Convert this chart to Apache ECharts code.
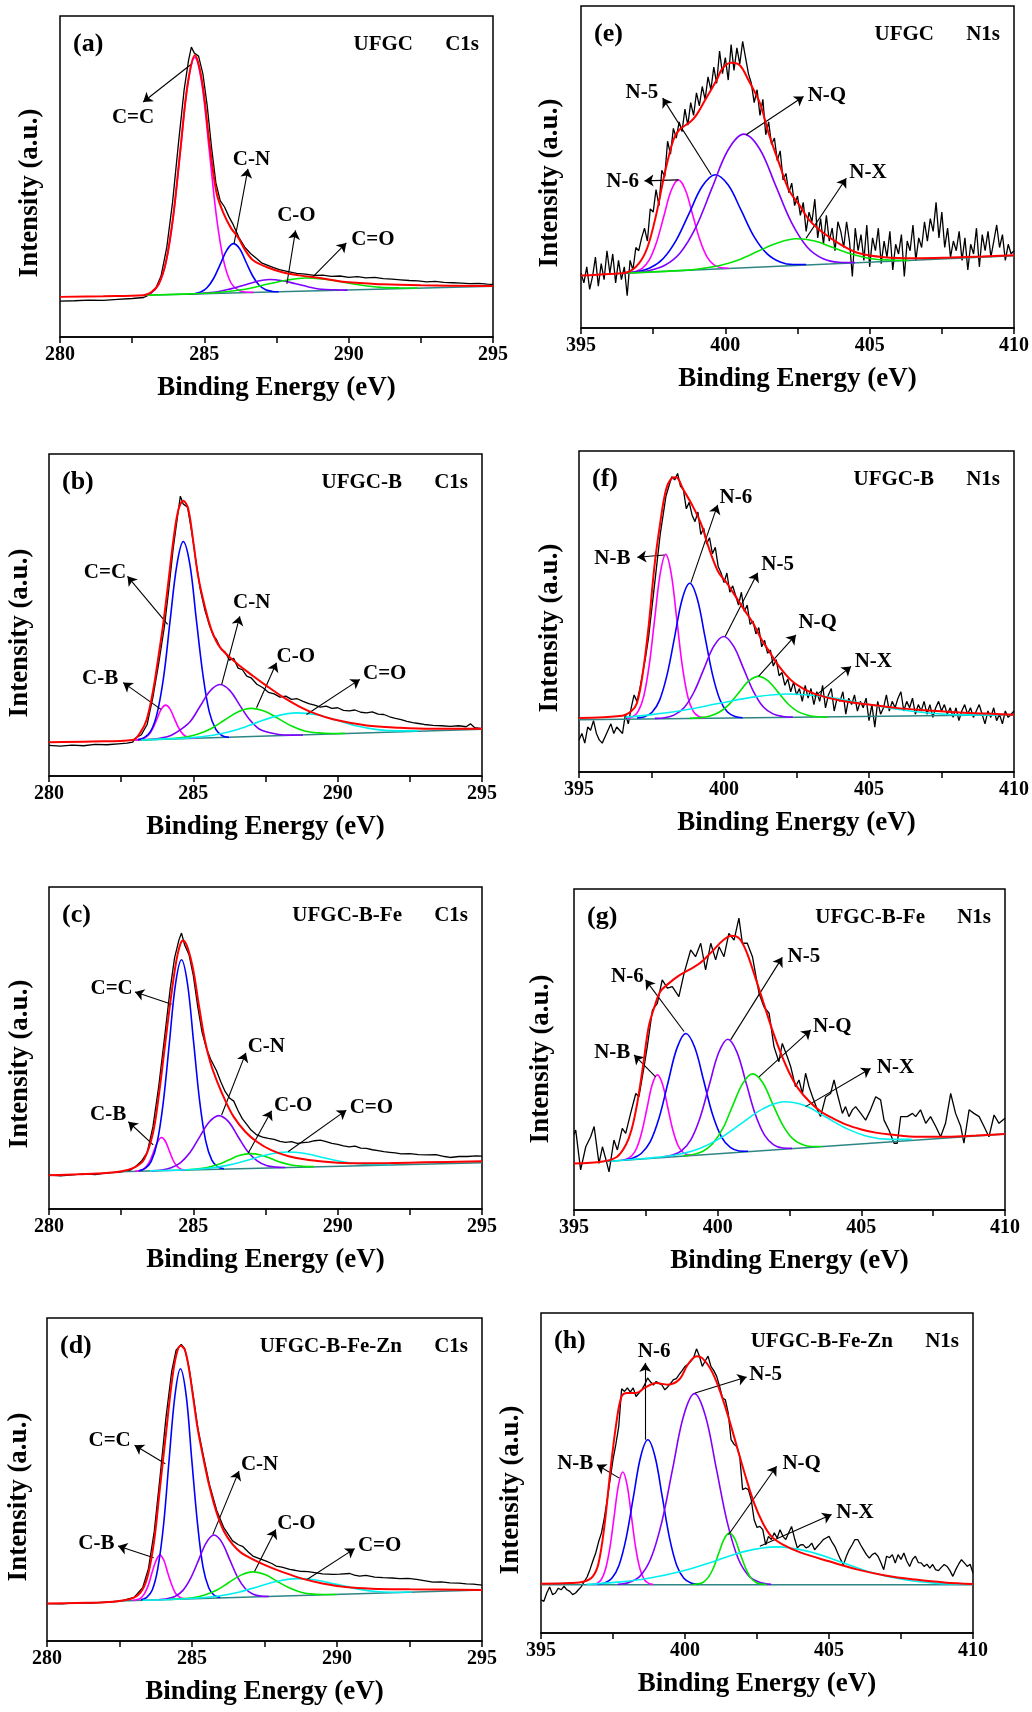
<!DOCTYPE html>
<html>
<head>
<meta charset="utf-8">
<title>XPS C1s / N1s</title>
<script src="https://cdn.jsdelivr.net/npm/echarts@6/dist/echarts.min.js"></script>
<style>
  html, body { margin: 0; padding: 0; background: #fff; }
  #chart { width: 1032px; height: 1712px; }
</style>
</head>
<body>
<div id="chart"></div>
<script>
// ---- (a) UFGC C1s ----
const aRaw = [[280,11.2],[280.5,11.3],[281,11.5],[281.5,11.4],[282,11.7],[282.5,12.0],[282.9,12.3],[283.1,13.2],[283.3,14.8],[283.5,19],[283.7,28],[283.9,42],[284.1,60],[284.3,77],[284.45,86],[284.55,90.3],[284.65,88.5],[284.8,87.5],[284.95,82],[285.1,72],[285.25,59],[285.4,48],[285.55,42.5],[285.7,40.5],[285.85,37.5],[286.0,35],[286.2,31],[286.4,28],[286.6,26],[286.8,24.5],[287.0,23],[287.2,22.3],[287.4,21.6],[287.6,21.0],[287.9,20.4],[288.2,19.8],[288.5,19.6],[288.8,19.2],[289.1,19.3],[289.4,18.9],[289.7,19.0],[290.0,18.6],[290.3,18.8],[290.6,18.4],[290.9,18.6],[291.2,18.2],[291.5,18.0],[291.8,17.8],[292.1,17.6],[292.4,17.5],[292.7,17.2],[293.0,17.3],[293.3,17.0],[293.6,16.9],[293.9,16.8],[294.2,16.6],[294.5,16.7],[294.8,16.5],[295,16.4]];
const aEnv = [[280,12.5],[281.5,12.7],[282.9,13.0],[283.17,14.0],[283.42,16.5],[283.67,23.4],[283.92,37.5],[284.17,58.3],[284.42,78.6],[284.67,87.8],[284.92,79.8],[285.17,61],[285.42,45],[285.67,38.4],[285.92,34],[286.17,31],[286.42,27],[286.69,23.9],[287.15,21.8],[287.7,20.2],[288.3,19.2],[289.0,18.4],[289.9,17.1],[291.2,16.4],[292.5,16.1],[295,15.9]];
const aBase = [[282.9,13.0],[295,15.8]];
const aCC = [[282.9,13.0],[283.17,13.9],[283.42,16.4],[283.67,23.2],[283.92,37.2],[284.17,58.0],[284.42,78.4],[284.67,87.1],[284.92,78.5],[285.17,58.2],[285.42,37.5],[285.67,23.7],[285.92,16.9],[286.17,14.6],[286.42,14.0],[286.7,13.9]];
const aCN = [[284.43,13.3],[284.65,13.5],[284.875,14.0],[285.1,15.4],[285.325,18.3],[285.55,22.6],[285.775,27.0],[286.0,29.1],[286.225,27.5],[286.45,23.2],[286.675,19.0],[286.9,16.1],[287.125,14.7],[287.35,14.2],[287.575,14.1]];
const aCO = [[284.56,13.4],[285.01,13.7],[285.46,14.1],[285.91,15.0],[286.36,16.1],[286.81,17.3],[287.26,17.9],[287.71,17.5],[288.16,16.6],[288.61,15.6],[289.06,14.9],[289.51,14.7],[289.96,14.6]];
const aCdO = [[283.0,13.0],[284.6,13.45],[285.25,13.7],[285.9,14.25],[286.55,15.1],[287.2,16.5],[287.85,17.7],[288.5,18.4],[289.15,18.0],[289.8,17.1],[290.45,16.1],[291.1,15.45],[291.75,15.3],[292.4,15.25]];
const aNotes = [['C=C',282.53,68.5,284.58,85.2,282.88,73.2],['C-N',286.63,55.2,286.03,29.1,286.51,52.4],['C-O',288.19,37.9,287.86,16.6,288.16,33.2],['C=O',290.84,30.3,288.76,18.7,289.92,29.3]];

// ---- (b) UFGC-B C1s ----
const bRaw = [[280,9.5],[280.4,9.3],[280.8,9.6],[281.2,9.4],[281.6,9.8],[282.0,9.7],[282.4,10.0],[282.7,10.2],[282.9,10.5],[283.0,11.8],[283.2,12.8],[283.4,16.0],[283.6,24.5],[283.8,35.0],[284.0,46.5],[284.15,58],[284.3,70.5],[284.45,80.5],[284.55,86.9],[284.65,84.5],[284.8,83.5],[284.95,75.5],[285.1,66],[285.25,57.5],[285.4,51.5],[285.55,47],[285.7,43.5],[285.8,42.4],[285.95,39.5],[286.1,38.5],[286.25,36],[286.4,36.5],[286.55,33.5],[286.7,33],[286.85,31],[287.0,30.5],[287.2,28.5],[287.4,27.5],[287.6,26],[287.8,25.5],[288.0,24.5],[288.2,24.8],[288.4,23.8],[288.6,24],[288.8,23.2],[289.0,22.5],[289.2,22.0],[289.4,21.4],[289.6,21.7],[289.8,21.0],[290.0,21.2],[290.2,20.4],[290.4,20.2],[290.6,20.5],[290.8,19.8],[291.0,19.6],[291.2,19.9],[291.4,19.2],[291.6,19.1],[291.8,18.4],[292.0,17.9],[292.2,17.5],[292.4,17.0],[292.6,16.6],[292.8,16.3],[293.0,16.0],[293.3,15.7],[293.6,15.6],[293.9,15.4],[294.2,15.6],[294.45,15.3],[294.6,16.2],[294.75,15.0],[295,14.7]];
const bEnv = [[280,10.5],[281.5,10.7],[282.9,11.2],[283.15,13.3],[283.38,17.4],[283.61,26.7],[283.79,37.0],[283.96,47.4],[284.13,59.8],[284.31,73.3],[284.48,82.6],[284.65,85.5],[284.82,83.1],[284.99,73.3],[285.17,61.9],[285.4,52.6],[285.63,45.3],[285.92,40.0],[286.5,35.0],[287.08,31.0],[287.54,28.0],[288.11,24.5],[288.69,21.5],[289.27,19.2],[289.84,17.6],[291.0,15.7],[292.15,15.0],[293.3,14.7],[295,14.7]];
const bBase = [[282.9,11.1],[295,14.5]];
const bCB = [[282.99,11.15],[283.14,11.3],[283.29,11.75],[283.44,12.65],[283.59,14.65],[283.74,17.7],[283.89,20.75],[284.04,22.0],[284.19,20.85],[284.34,17.9],[284.49,14.95],[284.64,13.0],[284.79,12.1],[284.94,11.8],[285.09,11.75]];
const bCC = [[283.08,11.3],[283.3,11.9],[283.53,14.0],[283.75,19.6],[283.98,31.3],[284.2,48.65],[284.43,65.6],[284.65,72.8],[284.88,65.7],[285.1,48.85],[285.33,31.6],[285.55,20.0],[285.78,14.5],[286.0,12.5],[286.23,12.0]];
const bCN = [[283.2,11.2],[283.54,11.4],[283.88,11.8],[284.22,12.6],[284.56,14.4],[284.9,17.0],[285.24,21.75],[285.58,26.4],[285.92,28.4],[286.26,26.6],[286.6,22.1],[286.94,17.6],[287.28,14.6],[287.62,13.5],[287.96,12.9],[288.3,12.7],[288.8,12.75]];
const bCO = [[283.2,11.2],[283.75,11.4],[284.21,11.6],[284.68,12.0],[285.14,13.0],[285.61,14.7],[286.07,17.3],[286.54,19.9],[287.0,21.0],[287.47,20.1],[287.93,17.9],[288.4,15.5],[288.86,14.0],[289.33,13.4],[289.79,13.2],[290.26,13.25]];
const bCdO = [[283.2,11.2],[284.37,11.6],[285.07,12.0],[285.77,12.8],[286.47,14.3],[287.17,16.5],[287.87,18.6],[288.57,19.6],[289.27,19.0],[289.97,17.3],[290.67,15.5],[291.37,14.4],[292.07,14.0],[292.77,14.0]];
const bNotes = [['C=C',281.94,63.1,284.11,47.1,282.72,62.0],['C-B',281.77,30.2,283.88,20.7,282.57,29.0],['C-N',287.02,54.0,285.98,28.4,286.61,49.6],['C-O',288.55,37.2,287.19,21.2,287.88,35.2],['C=O',291.63,31.7,288.92,19.1,290.77,30.0]];

// ---- (c) UFGC-B-Fe C1s ----
const cRaw = [[280,10.5],[280.4,10.3],[280.8,10.6],[281.2,10.9],[281.6,10.7],[282.0,11.2],[282.4,11.4],[282.8,12.0],[283.0,13.2],[283.2,14.8],[283.4,17.5],[283.6,25.5],[283.8,38],[284.0,53],[284.2,68.5],[284.35,78],[284.5,83.5],[284.59,85.7],[284.7,82],[284.85,79],[285.0,72.5],[285.15,63],[285.3,55],[285.45,50],[285.6,46.5],[285.8,43],[285.95,39.5],[286.1,36.5],[286.25,34.5],[286.4,33.5],[286.55,30.5],[286.7,28],[286.85,26.3],[287.0,24.5],[287.2,23.0],[287.4,22.3],[287.6,21.9],[287.8,21.6],[288.0,21.0],[288.2,20.7],[288.4,20.9],[288.6,20.4],[288.8,20.6],[289.0,20.8],[289.2,21.2],[289.4,21.4],[289.6,20.9],[289.8,20.4],[290.0,20.1],[290.2,19.6],[290.4,19.3],[290.6,19.5],[290.8,18.9],[291.0,18.8],[291.2,18.4],[291.4,18.1],[291.6,17.8],[291.8,17.6],[292.0,17.4],[292.2,17.1],[292.5,17.2],[292.8,16.9],[293.1,16.8],[293.4,16.9],[293.7,16.3],[293.9,16.0],[294.2,16.3],[294.5,16.3],[294.8,16.5],[295,16.4]];
const cEnv = [[280,10.5],[281,10.8],[282,11.2],[282.6,11.9],[283.0,13.1],[283.3,15.5],[283.6,23.5],[283.8,35],[284.0,49.5],[284.2,64],[284.4,76.5],[284.55,82.3],[284.65,83.4],[284.8,81.2],[285.0,74.1],[285.2,62.8],[285.4,52.4],[285.6,45.2],[285.85,39.0],[286.1,33.8],[286.4,28.6],[286.8,24],[287.2,20.9],[287.7,18.3],[288.3,16.4],[289,15.2],[290,14.4],[291,14.2],[292,14.3],[293,14.5],[295,14.8]];
const cBase = [[282.4,11.6],[295,14.4]];
const cCB = [[282.99,11.75],[283.12,11.9],[283.25,12.3],[283.38,13.25],[283.51,15.2],[283.64,18.15],[283.77,21.0],[283.9,22.2],[284.03,21.05],[284.16,18.25],[284.29,15.3],[284.42,13.4],[284.55,12.45],[284.68,12.15],[284.81,12.05]];
const cCC = [[283.12,11.85],[283.33,12.6],[283.54,14.8],[283.75,20.8],[283.96,33.2],[284.17,51.6],[284.38,69.7],[284.59,77.4],[284.8,69.8],[285.01,51.8],[285.22,33.4],[285.43,21.1],[285.64,15.2],[285.85,13.1],[286.06,12.5]];
const cCN = [[283.57,11.9],[283.9,12.1],[284.23,12.8],[284.56,14.4],[284.89,17.6],[285.22,22.4],[285.55,27.0],[285.88,29.0],[286.21,27.2],[286.54,22.6],[286.87,18.0],[287.2,15.0],[287.53,13.5],[287.86,13.0],[288.19,12.9]];
const cCO = [[284.74,12.15],[285.11,12.4],[285.48,12.9],[285.85,13.8],[286.22,15.2],[286.59,16.6],[286.96,17.2],[287.33,16.8],[287.7,15.6],[288.07,14.4],[288.44,13.6],[288.81,13.25],[289.18,13.15]];
const cCdO = [[283.5,11.9],[284.63,12.1],[285.23,12.4],[285.83,13.0],[286.43,14.05],[287.03,15.55],[287.63,17.0],[288.23,17.7],[288.83,17.3],[289.43,16.1],[290.03,14.9],[290.63,14.15],[291.23,13.85],[291.83,13.85]];
const cNotes = [['C=C',282.17,68.4,284.25,63.6,282.98,67.4],['C-B',282.05,29.2,283.61,19.9,282.75,27.1],['C-N',287.53,50.4,285.98,29.2,286.82,48.5],['C-O',288.46,32.0,286.9,17.3,287.71,30.5],['C=O',291.17,31.5,288.28,17.8,290.3,30.7]];

// ---- (d) UFGC-B-Fe-Zn C1s ----
const dRaw = [[280,11.6],[280.5,11.5],[281,11.8],[281.5,11.7],[282,12.0],[282.5,12.3],[283.0,13.5],[283.3,16.5],[283.5,22.5],[283.7,34],[283.9,51],[284.1,69],[284.3,83.5],[284.45,90],[284.63,91.8],[284.75,90.5],[284.9,84.5],[285.05,75.5],[285.2,66],[285.4,57],[285.6,48.5],[285.85,40.5],[286.1,35],[286.4,31],[286.6,29.8],[286.76,29.2],[286.95,27.5],[287.1,26.3],[287.3,25.6],[287.56,24.7],[287.75,24.0],[287.9,23.2],[288.1,22.9],[288.37,22.2],[288.55,21.9],[288.71,21.6],[289.0,21.5],[289.29,21.1],[289.5,20.8],[289.86,20.6],[290.1,20.7],[290.44,20.9],[290.6,20.4],[290.78,20.1],[291.0,20.3],[291.3,19.8],[291.59,19.6],[291.9,19.5],[292.16,19.3],[292.45,19.4],[292.74,19.1],[293.0,18.7],[293.31,18.2],[293.6,18.3],[293.89,18.0],[294.2,17.9],[294.46,17.7],[294.7,17.6],[295,17.3]];
const dEnv = [[280,11.6],[281,11.8],[282,12.0],[282.5,12.4],[283,13.4],[283.3,16],[283.5,21.1],[283.7,31.4],[283.9,47.9],[284.1,64],[284.3,80],[284.45,88.2],[284.6,91.4],[284.75,90.2],[284.9,84],[285.05,74.7],[285.2,65.5],[285.4,56.2],[285.6,47.9],[285.85,39.7],[286.1,34],[286.4,29.9],[286.7,27.3],[287.1,25.3],[287.6,23.2],[288.2,21.1],[288.8,19.3],[289.5,17.8],[290.3,16.7],[291.2,16.2],[292.5,16.0],[295,15.8]];
const dBase = [[282.5,12.4],[295,15.8]];
const dCB = [[282.95,12.55],[283.08,12.75],[283.22,13.2],[283.35,14.5],[283.49,17.2],[283.62,21.1],[283.76,24.9],[283.89,26.6],[284.03,25.0],[284.16,21.2],[284.3,17.4],[284.43,14.8],[284.57,13.6],[284.7,13.15],[284.84,13.05]];
const dCC = [[283.24,12.75],[283.43,13.45],[283.63,15.8],[283.82,22.4],[284.02,36.0],[284.21,56.05],[284.41,75.85],[284.6,84.3],[284.8,75.95],[284.99,56.3],[285.19,36.35],[285.38,22.85],[285.58,16.4],[285.77,14.1],[285.97,13.5]];
const dCN = [[283.87,12.85],[284.14,13.1],[284.41,13.8],[284.68,15.6],[284.95,19.4],[285.22,24.9],[285.49,30.4],[285.76,32.8],[286.03,30.55],[286.3,25.2],[286.57,19.8],[286.84,16.2],[287.11,14.5],[287.38,13.9],[287.65,13.8]];
const dCO = [[284.2,12.85],[284.61,13.05],[285.03,13.4],[285.44,14.25],[285.86,15.8],[286.27,18.1],[286.69,20.4],[287.1,21.4],[287.52,20.6],[287.93,18.5],[288.35,16.5],[288.76,15.1],[289.18,14.5],[289.59,14.4],[290.0,14.4]];
const dCdO = [[283.3,12.6],[284.66,13.0],[285.32,13.4],[285.98,14.0],[286.64,15.2],[287.3,16.9],[287.96,18.5],[288.62,19.3],[289.28,18.9],[289.94,17.6],[290.6,16.3],[291.26,15.4],[291.92,15.1],[292.58,15.15]];
const dNotes = [['C=C',282.16,61.9,284.08,54.9,283.02,60.6],['C-B',281.7,30.1,283.68,25.8,282.45,29.4],['C-N',287.33,54.6,285.72,33.0,286.62,52.6],['C-O',288.6,36.4,287.16,21.6,287.89,34.5],['C=O',291.47,29.4,288.94,18.9,290.61,28.6]];

// ---- (e) UFGC N1s : raw counts every 0.1 eV from 395.0 ----
const eRawY = [17,14,19,12,16,22,13,20,15,24, 17,23,14,21,15,19,10,21,18,25, 24,28,31,27,37,36,43,38,49,47, 58,54,62,59,64,61,68,63,70,66, 73,69,75,71,78,74,81,76,86,79, 84,77,88,80,87,82,89,84,79,76, 70,74,66,71,60,64,57,59,52,55, 46,48,42,45,38,41,35,39,30,36, 33,40,28,34,26,35,27,31,24,33, 30,25,33,27,16,31,24,29,21,32, 19,28,24,31,20,27,22,30,18,26, 23,29,16,27,24,32,21,28,25,33, 27,34,30,39,28,36,25,31,22,27, 24,30,21,28,18,26,23,31,19,29, 24,30,22,27,32,25,29,21,26,23, 24];
const eEnv = [[395,16.3],[396,16.8],[396.6,17.3],[397,20],[397.3,25],[397.6,35],[397.9,48],[398.2,58.4],[398.4,61.5],[398.8,64.1],[399.0,66.2],[399.3,70.8],[399.7,77],[399.9,80.6],[400.2,82.4],[400.5,81.6],[400.8,77],[401.2,69.8],[401.5,60.5],[401.9,50.2],[402.2,42.9],[402.6,37.7],[402.9,33.6],[403.4,29.5],[404,25.9],[404.6,23.3],[405.5,22],[406.6,21.7],[407.8,21.9],[408.9,22.2],[410,22.6]];
const eBase = [[396.6,17.1],[410,22.4]];
const eN6 = [[396.62,17.15],[396.87,17.5],[397.12,18.5],[397.37,21.2],[397.62,26.7],[397.87,34.7],[398.12,42.6],[398.37,46.0],[398.62,42.8],[398.87,35.1],[399.12,27.3],[399.37,22.0],[399.62,19.5],[399.87,18.7],[400.12,18.56]];
const eN5 = [[396.5,17.1],[396.95,17.5],[397.4,18.7],[397.85,21.6],[398.3,27.3],[398.75,35.7],[399.2,44.0],[399.65,47.6],[400.1,44.4],[400.55,36.5],[401.0,28.3],[401.45,23.0],[401.9,20.5],[402.35,19.7],[402.8,19.7]];
const eNQ = [[396.79,17.2],[397.34,17.8],[397.89,19.4],[398.44,23.4],[398.99,31.5],[399.54,43.5],[400.09,55.2],[400.64,60.2],[401.19,55.6],[401.74,44.3],[402.29,32.8],[402.84,25.1],[403.39,21.5],[403.94,20.4],[404.49,20.3]];
const eNX = [[396.62,17.1],[398.55,17.9],[399.2,18.5],[399.85,19.5],[400.5,21.3],[401.15,23.9],[401.8,26.4],[402.45,27.7],[403.1,27.0],[403.75,24.9],[404.4,22.9],[405.05,21.5],[405.7,21.1],[406.35,21.0]];
const eNotes = [['N-5',397.11,73.1,399.51,47.6,397.83,71.4],['N-6',396.44,45.5,398.37,46.0,397.2,45.7],['N-Q',403.52,72.1,400.72,60.0,402.71,71.9],['N-X',404.94,48.3,402.8,27.9,404.19,46.5]];

// ---- (f) UFGC-B N1s : raw counts every 0.1 eV from 395.0 ----
const fRawY = [10,12,9,14,13,16,12,10,9,11, 13,15,12,14,13,12,18,15,20,24, 22,26,31,36,42,50,58,66,74,80, 86,89,92,91,93,89,88,82,84,80, 78,81,74,76,71,73,68,70,64,62, 59,62,56,58,55,52,56,50,52,46, 47,43,45,39,41,37,38,33,35,30, 31,27,29,25,28,24,26,22,27,23, 26,21,25,22,27,20,24,26,19,23, 22,25,18,23,21,24,19,22,20,23, 16,21,14,22,18,20,24,19,22,20, 23,25,19,22,20,23,18,21,19,22, 18,21,17,20,22,19,21,18,20,17, 20,16,19,21,18,20,17,19,21,18, 15,19,17,20,16,18,15,19,17,18, 19];
const fEnv = [[395,16.8],[396.5,17.5],[396.8,18.9],[397.0,21.5],[397.2,30.8],[397.4,45.3],[397.6,64],[397.8,77.5],[398.0,87.9],[398.2,91.5],[398.35,91.8],[398.6,87.9],[398.9,83.2],[399.2,77.5],[399.5,69.2],[399.8,62.4],[400.1,58.8],[400.4,54.7],[400.7,50.5],[401.0,46.4],[401.3,41.2],[401.6,37],[401.9,32.9],[402.3,28.7],[402.7,26.1],[403.2,24.1],[404,22.3],[405,21],[406,19.9],[407,19.2],[408,18.6],[409,18.2],[410,17.8]];
const fBase = [[395,16.3],[410,17.8]];
const fNB = [[396.66,16.7],[396.85,17.2],[397.04,18.9],[397.23,23.5],[397.42,33.2],[397.61,47.7],[397.8,61.8],[397.99,67.8],[398.18,61.8],[398.37,47.7],[398.56,33.2],[398.75,23.5],[398.94,18.9],[399.13,17.3],[399.32,16.8]];
const fN6 = [[397.0,16.8],[397.26,17.2],[397.52,18.6],[397.78,22.4],[398.04,30.4],[398.3,42.2],[398.56,53.9],[398.82,58.8],[399.08,53.9],[399.34,42.3],[399.6,30.5],[399.86,22.5],[400.12,18.7],[400.38,17.3],[400.64,16.9]];
const fN5 = [[397.61,16.7],[397.95,16.9],[398.29,17.8],[398.63,20.1],[398.97,25.0],[399.31,32.2],[399.65,39.2],[399.99,42.2],[400.33,39.2],[400.67,32.3],[401.01,25.2],[401.35,20.3],[401.69,18.1],[402.03,17.3],[402.37,17.1]];
const fNQ = [[398.81,16.7],[399.15,16.9],[399.49,17.4],[399.83,18.6],[400.17,21.0],[400.51,24.7],[400.85,28.3],[401.19,29.8],[401.53,28.3],[401.87,24.8],[402.21,21.2],[402.55,18.8],[402.89,17.7],[403.23,17.2],[403.57,17.1]];
const fNX = [[396.6,17.1],[397.45,17.8],[398.65,19.3],[399.85,21.4],[401.05,23.4],[402.25,24.3],[403.45,23.5],[404.65,21.6],[405.85,19.7],[407.05,18.4],[408.25,17.8],[409.45,17.8]];
const fNotes = [['N-B',396.15,66.6,397.94,67.6,397.01,66.9],['N-6',400.41,85.6,398.86,59.0,399.78,83.2],['N-5',401.85,64.5,400.04,42.2,401.16,62.1],['N-Q',403.23,46.6,401.19,29.8,402.48,42.7],['N-X',405.15,34.4,403.12,23.5,404.38,32.9]];

// ---- (g) UFGC-B-Fe N1s ----
const gRaw = [[395.0,23.5],[395.06,24.9],[395.23,12.5],[395.41,19.7],[395.58,22.8],[395.7,26.0],[395.87,14.5],[395.99,19.7],[396.1,16.1],[396.22,11.9],[396.39,21.8],[396.51,18.7],[396.68,25.4],[396.8,23.9],[396.97,30.1],[397.15,36.3],[397.26,35.3],[397.44,44.7],[397.55,50.9],[397.73,62.3],[397.9,64.4],[398.07,71.7],[398.25,69.1],[398.42,69.6],[398.65,66.5],[398.83,73.7],[399.06,81.0],[399.23,78.9],[399.41,83.1],[399.58,74.8],[399.76,83.1],[399.93,77.9],[400.05,82.0],[400.22,78.9],[400.39,86.2],[400.57,84.1],[400.74,90.9],[400.86,83.1],[401.03,83.1],[401.21,78.9],[401.44,67.5],[401.61,63.3],[401.79,61.3],[401.96,50.9],[402.13,46.2],[402.25,51.9],[402.42,47.8],[402.54,44.7],[402.71,38.4],[402.83,40.5],[402.95,36.3],[403.06,42.6],[403.18,38.4],[403.3,35.3],[403.47,31.2],[403.58,29.1],[403.76,35.3],[403.93,36.3],[404.05,40.5],[404.16,36.3],[404.34,30.1],[404.45,32.2],[404.57,29.1],[404.69,31.2],[404.8,32.2],[404.98,30.1],[405.15,28.0],[405.32,31.2],[405.5,35.3],[405.67,34.3],[405.79,28.0],[405.96,24.9],[406.14,20.8],[406.25,20.8],[406.37,29.1],[406.6,29.1],[406.78,30.1],[406.89,29.1],[407.06,31.2],[407.24,27.0],[407.41,29.1],[407.59,26.0],[407.76,22.8],[407.93,27.0],[408.11,36.3],[408.28,30.1],[408.46,26.0],[408.57,20.8],[408.75,31.2],[408.92,30.1],[409.1,29.1],[409.27,26.0],[409.44,22.8],[409.62,29.6],[409.79,27.0],[410,28.6]];
const gEnv = [[395,14.5],[396,15.1],[396.5,16.6],[396.8,20.2],[397.0,24.9],[397.2,33.2],[397.4,44.7],[397.6,57.1],[397.8,63.3],[398.0,68],[398.3,70.6],[398.6,72.7],[399.0,74.8],[399.4,77],[399.8,80.5],[400.2,84.1],[400.5,85.4],[400.75,84.6],[401.0,80.5],[401.3,72.7],[401.6,64.4],[401.9,56.1],[402.2,48.8],[402.5,42.6],[402.8,37.9],[403.2,33.7],[403.6,30.6],[404,28.6],[404.5,26.5],[405,25.1],[405.5,24.1],[406,23.5],[407,22.8],[408,22.8],[409,23.2],[410,23.7]];
const gBase = [[396.1,15.1],[410,23.7]];
const gNB = [[396.64,15.5],[396.82,15.8],[397.0,16.8],[397.18,19.25],[397.36,24.3],[397.54,31.7],[397.72,39.0],[397.9,42.1],[398.08,39.2],[398.26,32.1],[398.44,24.9],[398.62,20.1],[398.8,17.9],[398.98,17.2],[399.16,17.1]];
const gN6 = [[396.72,15.6],[397.03,16.1],[397.34,17.6],[397.65,21.2],[397.96,28.65],[398.27,39.65],[398.58,50.35],[398.89,55.0],[399.2,50.7],[399.51,40.4],[399.82,29.8],[400.13,22.8],[400.44,19.5],[400.75,18.4],[401.06,18.3]];
const gN5 = [[398.11,16.6],[398.43,17.1],[398.75,18.5],[399.07,21.9],[399.39,28.8],[399.71,39.0],[400.03,48.9],[400.35,53.2],[400.67,49.2],[400.99,39.6],[401.31,29.8],[401.63,23.3],[401.95,20.3],[402.27,19.3],[402.59,19.2]];
const gNQ = [[398.8,16.85],[399.14,17.3],[399.49,18.3],[399.83,20.7],[400.18,25.4],[400.52,32.45],[400.87,39.35],[401.21,42.4],[401.56,39.8],[401.9,33.3],[402.25,26.7],[402.59,22.4],[402.94,20.4],[403.28,19.8],[403.63,19.8]];
const gNX = [[396.3,15.2],[397.1,15.8],[397.87,16.4],[398.61,17.3],[399.35,19.1],[400.09,22.4],[400.83,27.0],[401.57,31.5],[402.31,33.7],[403.05,32.5],[403.79,28.8],[404.53,25.2],[405.27,22.8],[406.01,22.0],[406.75,22.0]];
const gNotes = [['N-B',396.33,49.0,397.84,41.5,397.09,48.3],['N-6',396.86,72.7,398.83,55.6,397.49,71.7],['N-5',403.0,79.1,400.45,53.0,402.25,78.7],['N-Q',403.99,57.1,401.44,41.5,403.24,56.1],['N-X',406.19,44.4,403.06,32.2,405.32,44.1]];

// ---- (h) UFGC-B-Fe-Zn N1s : raw counts every 0.1 eV from 395.0 ----
const hRawY = [10.4,9.9,12.5,14.4,12.0,12.5,14.0,13.5,14.6,13.5, 13.0,12.0,12.5,13.5,14.5,16.1,17.5,19.8,22.5,25.0, 28.5,31.3,36.0,41.7,48.0,54.2,59.0,64.6,76.3,75.5, 76.6,75.3,76.6,73.9,75.0,76.0,77.6,79.7,78.5,77.5, 78.6,78.0,77.5,76.0,76.9,78.0,79.2,79.5,80.8,82.0, 83.3,84.0,84.9,86.0,88.8,86.5,83.3,85.0,86.5,83.3, 82.0,80.2,77.1,73.5,72.9,68.8,60.4,59.0,58.3,55.2, 44.8,45.3,44.8,41.7,35.4,33.0,33.3,32.3,27.6,30.2, 29.2,31.3,29.7,32.3,30.2,29.2,31.3,33.3,29.7,26.6, 27.5,27.6,26.6,27.0,28.1,26.0,27.1,28.1,29.2,29.7, 30.2,28.5,27.1,25.0,23.0,21.3,23.9,26.0,27.5,29.2, 29.2,27.5,26.0,24.5,23.4,24.5,25.0,24.0,22.0,19.8, 24.0,23.5,24.5,21.9,24.5,23.0,25.0,22.5,20.8,23.0, 24.0,22.0,21.9,20.8,21.5,20.3,21.4,19.8,19.5,20.5, 21.4,20.8,19.5,17.7,19.8,21.5,22.9,21.9,20.8,21.5, 18.75];
const hEnv = [[395,15.4],[396,15.6],[396.5,16.1],[396.8,17.7],[397.0,21.9],[397.2,33.3],[397.4,50],[397.6,64.6],[397.8,74],[398.0,75],[398.3,75],[398.6,76.6],[399.0,78.1],[399.4,77.6],[399.8,79.2],[400.1,83.9],[400.4,86.5],[400.6,85.9],[400.9,82.3],[401.2,76],[401.5,67.7],[401.8,58.3],[402.1,49],[402.4,40.6],[402.7,34.4],[403.0,30.2],[403.4,27.6],[404,25.2],[405,22.4],[406,19.8],[407,17.9],[408,16.7],[409,15.8],[410,15.3]];
const hBase = [[395,15.1],[410,15.1]];
const hNB = [[396.79,15.2],[396.94,15.5],[397.09,16.65],[397.24,19.9],[397.39,26.5],[397.54,36.45],[397.69,46.2],[397.84,50.3],[397.99,46.2],[398.14,36.45],[398.29,26.5],[398.44,19.9],[398.59,16.65],[398.74,15.5],[398.89,15.2]];
const hN6 = [[396.96,15.2],[397.21,15.6],[397.46,17.1],[397.71,21.2],[397.96,29.8],[398.21,42.6],[398.46,55.1],[398.71,60.4],[398.96,55.1],[399.21,42.6],[399.46,29.8],[399.71,21.2],[399.96,17.1],[400.21,15.6],[400.46,15.2]];
const hN5 = [[397.67,15.2],[398.05,15.8],[398.43,17.7],[398.81,23.2],[399.19,34.5],[399.57,51.3],[399.95,67.8],[400.33,74.8],[400.71,67.8],[401.09,51.3],[401.47,34.5],[401.85,23.2],[402.23,17.7],[402.61,15.8],[402.99,15.2]];
const hNQ = [[400.25,15.15],[400.43,15.3],[400.62,15.8],[400.8,17.3],[400.99,20.4],[401.17,24.9],[401.36,29.4],[401.54,31.3],[401.73,29.4],[401.91,24.9],[402.1,20.4],[402.28,17.3],[402.47,15.8],[402.65,15.3],[402.84,15.15]];
const hNX = [[396.58,15.2],[397.68,15.9],[398.78,17.2],[399.88,19.3],[400.98,22.3],[402.08,25.5],[403.18,26.9],[404.28,25.5],[405.38,22.3],[406.48,18.9],[407.58,16.7],[408.68,15.6],[409.78,15.2]];
const hNotes = [['N-B',396.19,52.9,397.72,48.4,396.94,52.6],['N-6',398.93,88.0,398.62,60.4,398.62,84.4],['N-5',402.8,80.7,400.35,75.0,402.14,80.0],['N-Q',404.05,52.8,401.51,30.7,403.18,52.1],['N-X',405.9,37.5,402.6,27.1,405.09,37.0]];

// ---- styling ----
const FONT = '"Liberation Serif", "Times New Roman", Times, serif';
const MAG = '#ff00ff', BLUE = '#0000ff', PURP = '#8000ff', GREEN = '#00e600', CYAN = '#00f0f0';
const RED = '#ff0000', TEAL = '#2e8585';

// raw N1s spectra were recorded on a 0.1 eV grid starting at 395 eV
const onGrid = ys => ys.map((y, i) => [+(395 + i * 0.1).toFixed(1), y]);

const panels = [
  { tag: '(a)', box: [60, 16, 433, 321], xr: [280, 295], sample: 'UFGC', core: 'C1s', raw: aRaw, env: aEnv, base: aBase,
    comps: [[aCC, MAG], [aCN, BLUE], [aCO, PURP], [aCdO, GREEN]], notes: aNotes, ylab: [30, 193] },
  { tag: '(e)', box: [581, 6, 433, 322], xr: [395, 410], sample: 'UFGC', core: 'N1s', raw: onGrid(eRawY), env: eEnv, base: eBase,
    comps: [[eN6, MAG], [eN5, BLUE], [eNQ, PURP], [eNX, GREEN]], notes: eNotes, ylab: [550, 183] },
  { tag: '(b)', box: [49, 454, 433, 322], xr: [280, 295], sample: 'UFGC-B', core: 'C1s', raw: bRaw, env: bEnv, base: bBase,
    comps: [[bCB, MAG], [bCC, BLUE], [bCN, PURP], [bCO, GREEN], [bCdO, CYAN]], notes: bNotes, ylab: [20, 633] },
  { tag: '(f)', box: [579, 451, 435, 321], xr: [395, 410], sample: 'UFGC-B', core: 'N1s', raw: onGrid(fRawY), env: fEnv, base: fBase,
    comps: [[fNB, MAG], [fN6, BLUE], [fN5, PURP], [fNQ, GREEN], [fNX, CYAN]], notes: fNotes, ylab: [550, 628] },
  { tag: '(c)', box: [49, 887, 433, 322], xr: [280, 295], sample: 'UFGC-B-Fe', core: 'C1s', raw: cRaw, env: cEnv, base: cBase,
    comps: [[cCB, MAG], [cCC, BLUE], [cCN, PURP], [cCO, GREEN], [cCdO, CYAN]], notes: cNotes, ylab: [20, 1064] },
  { tag: '(g)', box: [574, 889, 431, 321], xr: [395, 410], sample: 'UFGC-B-Fe', core: 'N1s', raw: gRaw, env: gEnv, base: gBase,
    comps: [[gNB, MAG], [gN6, BLUE], [gN5, PURP], [gNQ, GREEN], [gNX, CYAN]], notes: gNotes, ylab: [541, 1059] },
  { tag: '(d)', box: [47, 1318, 435, 323], xr: [280, 295], sample: 'UFGC-B-Fe-Zn', core: 'C1s', raw: dRaw, env: dEnv, base: dBase,
    comps: [[dCB, MAG], [dCC, BLUE], [dCN, PURP], [dCO, GREEN], [dCdO, CYAN]], notes: dNotes, ylab: [19, 1497] },
  { tag: '(h)', box: [541, 1313, 432, 320], xr: [395, 410], sample: 'UFGC-B-Fe-Zn', core: 'N1s', raw: onGrid(hRawY), env: hEnv, base: hBase,
    comps: [[hNB, MAG], [hN6, BLUE], [hN5, PURP], [hNQ, GREEN], [hNX, CYAN]], notes: hNotes, ylab: [511, 1490] }
];

const grid = [], xAxis = [], yAxis = [], series = [], graphic = [];
const boldText = (size) => ({ fontFamily: FONT, fontWeight: 'bold', fontSize: size, color: '#000' });

panels.forEach((p, i) => {
  const [left, top, width, height] = p.box;
  const right = left + width;
  grid.push({ left, top, width, height, show: true, borderColor: '#000', borderWidth: 1.5, containLabel: false });

  xAxis.push({
    gridIndex: i, type: 'value', min: p.xr[0], max: p.xr[1], interval: 5,
    axisLine: { show: true, onZero: false, lineStyle: { color: '#000', width: 1.5 } },
    axisTick: { show: true, inside: false, length: 6, lineStyle: { color: '#000', width: 1.5 } },
    minorTick: { show: true, splitNumber: 2, length: 6, lineStyle: { color: '#000', width: 1.5 } },
    axisLabel: { ...boldText(20), margin: 8 },
    splitLine: { show: false },
    name: 'Binding Energy (eV)', nameLocation: 'middle', nameGap: 38,
    nameTextStyle: boldText(27)
  });
  yAxis.push({ gridIndex: i, type: 'value', min: 0, max: 100, show: false });

  // measured spectrum
  series.push({ type: 'line', xAxisIndex: i, yAxisIndex: i, data: p.raw, showSymbol: false, symbol: 'none',
    lineStyle: { color: '#000', width: 1.3 }, z: 2, silent: true });
  // background, carrying the annotation arrows
  series.push({ type: 'line', xAxisIndex: i, yAxisIndex: i, data: p.base, showSymbol: false, symbol: 'none',
    lineStyle: { color: TEAL, width: 1.5 }, z: 3, silent: true,
    markLine: {
      silent: true, symbol: ['none', 'arrow'], symbolSize: 9, animation: false,
      lineStyle: { color: '#000', width: 1.1, type: 'solid' }, label: { show: false },
      emphasis: { disabled: true },
      data: p.notes.map(n => [{ coord: [n[3], n[4]] }, { coord: [n[5], n[6]] }])
    } });
  // fitted components
  p.comps.forEach(([d, c]) => {
    series.push({ type: 'line', xAxisIndex: i, yAxisIndex: i, data: d, smooth: 0.35, showSymbol: false, symbol: 'none',
      lineStyle: { color: c, width: 1.6 }, z: 4, silent: true });
  });
  // envelope
  series.push({ type: 'line', xAxisIndex: i, yAxisIndex: i, data: p.env, smooth: 0.35, showSymbol: false, symbol: 'none',
    lineStyle: { color: RED, width: 2 }, z: 5, silent: true });
  // peak labels
  series.push({ type: 'scatter', xAxisIndex: i, yAxisIndex: i, symbolSize: 1, z: 6, silent: true,
    itemStyle: { color: 'rgba(0,0,0,0)' },
    data: p.notes.map(n => [n[1], n[2], n[0]]),
    label: { show: true, position: 'inside', formatter: q => q.data[2], ...boldText(21), opacity: 1, textBorderWidth: 0 },
    labelLayout: { hideOverlap: false } });

  graphic.push({ type: 'text', x: left + 13, y: top + 28, silent: true,
    style: { text: p.tag, fill: '#000', font: 'bold 26px ' + FONT, align: 'left', verticalAlign: 'middle', textAlign: 'left', textVerticalAlign: 'middle' } });
  graphic.push({ type: 'text', x: right - 80, y: top + 29, silent: true,
    style: { text: p.sample, fill: '#000', font: 'bold 21px ' + FONT, align: 'right', verticalAlign: 'middle', textAlign: 'right', textVerticalAlign: 'middle' } });
  graphic.push({ type: 'text', x: right - 14, y: top + 29, silent: true,
    style: { text: p.core, fill: '#000', font: 'bold 21px ' + FONT, align: 'right', verticalAlign: 'middle', textAlign: 'right', textVerticalAlign: 'middle' } });
  graphic.push({ type: 'text', x: p.ylab[0], y: p.ylab[1], rotation: Math.PI / 2, silent: true,
    style: { text: 'Intensity (a.u.)', fill: '#000', font: 'bold 27px ' + FONT, align: 'center', verticalAlign: 'middle', textAlign: 'center', textVerticalAlign: 'middle' } });
});

const chart = echarts.init(document.getElementById('chart'), null, { renderer: 'canvas' });
chart.setOption({
  backgroundColor: '#fff',
  animation: false,
  grid, xAxis, yAxis, series, graphic
});
</script>
</body>
</html>
